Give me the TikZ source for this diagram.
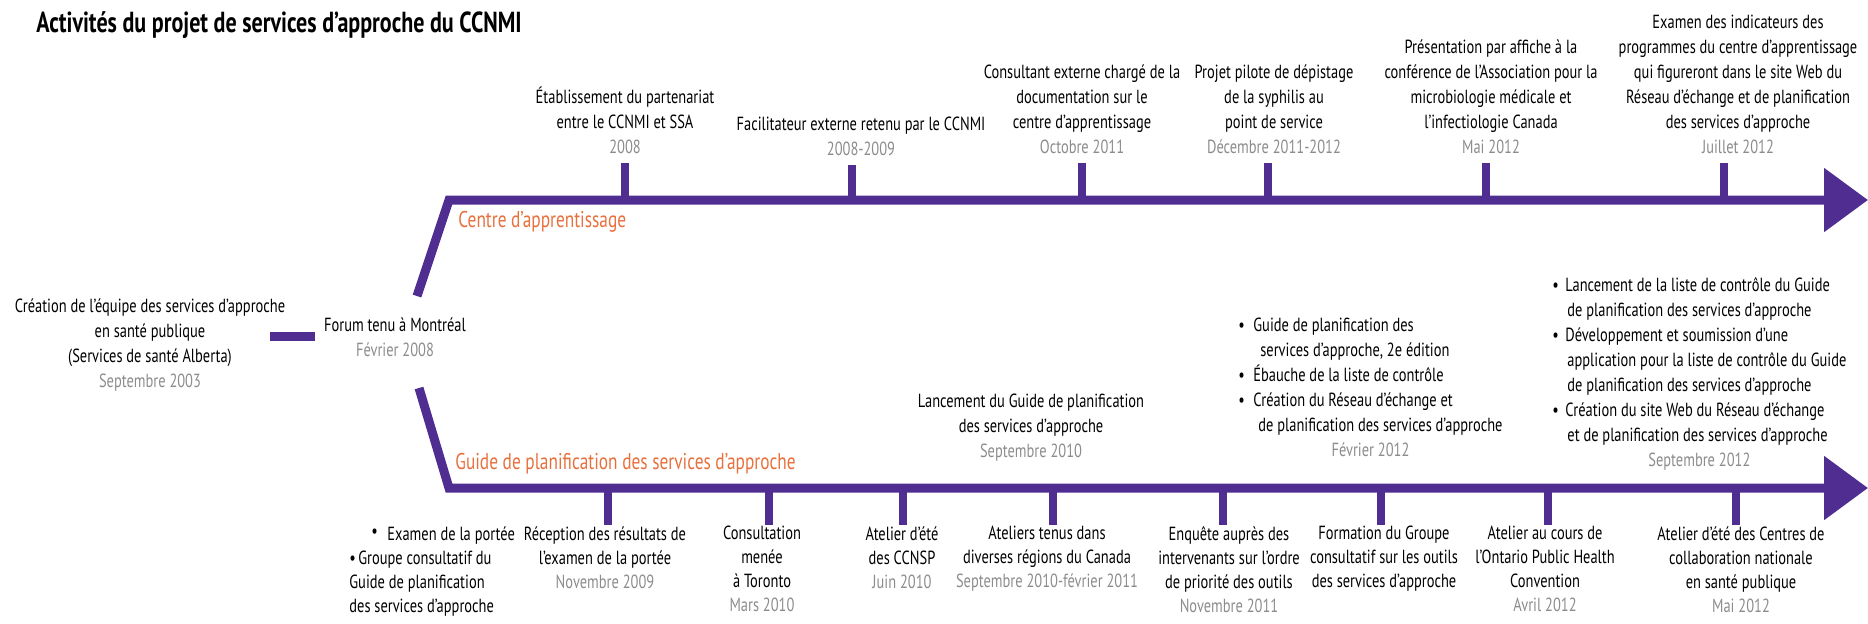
\documentclass[tikz,border=0pt]{standalone}
\usepackage{fontspec}
\setmainfont{PT Sans}[FakeStretch=0.76]
\usetikzlibrary{arrows.meta}
\definecolor{purp}{RGB}{80,45,145}
\definecolor{orng}{RGB}{232,112,60}
\definecolor{dgray}{RGB}{140,140,140}
\newcommand{\dt}[1]{{\color{dgray}#1}}
\newcommand{\bl}[1]{\makebox[#1][l]{\textbullet}}
\begin{document}
\begin{tikzpicture}[x=0.5pt,y=-0.5pt,
  tl/.style={draw=purp,line width=4.5pt,line join=miter},
  tk/.style={draw=purp,line width=3.6pt},
  evu/.style={align=center,inner sep=0pt,font=\fontsize{9.5}{12.5}\selectfont},
  evl/.style={align=center,inner sep=0pt,font=\fontsize{9.5}{12}\selectfont},
  lab/.style={text=orng,inner sep=0pt,anchor=west,font=\fontsize{11.4}{13}\selectfont},
  ttl/.style={inner sep=0pt,anchor=west,font=\bfseries\fontsize{14.5}{16}\selectfont},
  tip/.style={-{Triangle[length=22pt,width=31pt]}},
]
\useasboundingbox (0,0) rectangle (1868,623);

\node[ttl] (title) at (36,25) {Activités du projet de services d’approche du CCNMI};

% timelines
\coordinate (u0) at (417,296);
\coordinate (u1) at (449,200);
\coordinate (uend) at (1868,200);
\coordinate (l0) at (419,388);
\coordinate (l1) at (449,488);
\coordinate (lend) at (1868,488);
\draw[tl,tip] (u0) -- (u1) -- (uend);
\draw[tl,tip] (l0) -- (l1) -- (lend);

\node[lab] (cA) at (458,222) {Centre d’apprentissage};
\node[lab] (gP) at (455,464) {Guide de planification des services d’approche};

% left
\node[evu,anchor=north] (c0) at (150,298) {Création de l’équipe des services d’approche\\en santé publique\\(Services de santé Alberta)\\\dt{Septembre 2003}};
\node[evu,anchor=north] (f0) at (395,317) {Forum tenu à Montréal\\\dt{Février 2008}};
\coordinate (bA) at (270,336);
\coordinate (bB) at (315,336);
\draw[tl] (bA) -- (bB);

% upper events
\foreach \n/\x in {1/625,2/852,3/1082,4/1268,5/1486,6/1724}{
  \coordinate (t\n) at (\x,200);
}
\node[evu,anchor=south] (e1) at (625,154) {Établissement du partenariat\\entre le CCNMI et SSA\\\dt{2008}};
\node[evu,anchor=south] (e2) at (861,156) {Facilitateur externe retenu par le CCNMI\\\dt{2008-2009}};
\node[evu,anchor=south] (e3) at (1082,154) {Consultant externe chargé de la\\documentation sur le\\centre d’apprentissage\\\dt{Octobre 2011}};
\node[evu,anchor=south] (e4) at (1274,154) {Projet pilote de dépistage\\de la syphilis au\\point de service\\\dt{Décembre 2011-2012}};
\node[evu,anchor=south] (e5) at (1491,154) {Présentation par affiche à la\\conférence de l’Association pour la\\microbiologie médicale et\\l’infectiologie Canada\\\dt{Mai 2012}};
\node[evu,anchor=south] (e6) at (1738,154) {Examen des indicateurs des\\programmes du centre d’apprentissage\\qui figureront dans le site Web du\\Réseau d’échange et de planification\\des services d’approche\\\dt{Juillet 2012}};
\foreach \n in {1,...,6}{ \draw[tk] (t\n) -- ([yshift=-4.5pt]t\n |- e\n.south); }

% lower events above line
\node[evu,anchor=south] (a1) at (1031,462) {Lancement du Guide de planification\\des services d’approche\\\dt{Septembre 2010}};
\node[evu,anchor=south west] (a2) at (1238,464) {\begin{tabular}{@{}l@{}}
\bl{7.5pt}Guide de planification des\\
\hspace{11pt}services d’approche, 2e édition\\
\bl{7.5pt}Ébauche de la liste de contrôle\\
\bl{7.5pt}Création du Réseau d’échange et\\
\hspace{10pt}de planification des services d’approche\\
\multicolumn{1}{@{}c@{}}{\dt{Février 2012}}
\end{tabular}};
\node[evu,anchor=south west] (a3) at (1552,474) {\begin{tabular}{@{}l@{}}
\bl{6.5pt}Lancement de la liste de contrôle du Guide\\
\hspace{7.5pt}de planification des services d’approche\\
\bl{6.5pt}Développement et soumission d’une\\
\hspace{7.5pt}application pour la liste de contrôle du Guide\\
\hspace{7.5pt}de planification des services d’approche\\
\bl{6.5pt}Création du site Web du Réseau d’échange\\
\hspace{7.5pt}et de planification des services d’approche\\
\multicolumn{1}{@{}c@{}}{\dt{Septembre 2012}}
\end{tabular}};

% lower events below line
\foreach \n/\x in {1/608,2/769,3/903,4/1053,5/1223,6/1381,7/1548,8/1736}{
  \coordinate (s\n) at (\x,488);
}
\node[evl,anchor=north west] (b0) at (349,523) {\begin{tabular}{@{}l@{}}
\hspace{11pt}\makebox[8pt][l]{\raisebox{1.5pt}{\textbullet}}Examen de la portée\\
\bl{4.5pt}Groupe consultatif du\\
Guide de planification\\
des services d’approche
\end{tabular}};
\node[evl,anchor=north] (b1) at (605,526) {Réception des résultats de\\l’examen de la portée\\\dt{Novembre 2009}};
\node[evl,anchor=north] (b2) at (762,526) {Consultation\\menée\\à Toronto\\\dt{Mars 2010}};
\node[evl,anchor=north] (b3) at (902,526) {Atelier d’été\\des CCNSP\\\dt{Juin 2010}};
\node[evl,anchor=north] (b4) at (1047,526) {Ateliers tenus dans\\diverses régions du Canada\\\dt{Septembre 2010-février 2011}};
\node[evl,anchor=north] (b5) at (1229,526) {Enquête auprès des\\intervenants sur l’ordre\\de priorité des outils\\\dt{Novembre 2011}};
\node[evl,anchor=north] (b6) at (1384,526) {Formation du Groupe\\consultatif sur les outils\\des services d’approche};
\node[evl,anchor=north] (b7) at (1545,526) {Atelier au cours de\\l’Ontario Public Health\\Convention\\\dt{Avril 2012}};
\node[evl,anchor=north] (b8) at (1741,526) {Atelier d’été des Centres de\\collaboration nationale\\en santé publique\\\dt{Mai 2012}};
\foreach \n in {1,...,8}{ \draw[tk,shorten >=0.5pt] (s\n) -- (s\n |- b\n.north); }
\end{tikzpicture}
\end{document}
